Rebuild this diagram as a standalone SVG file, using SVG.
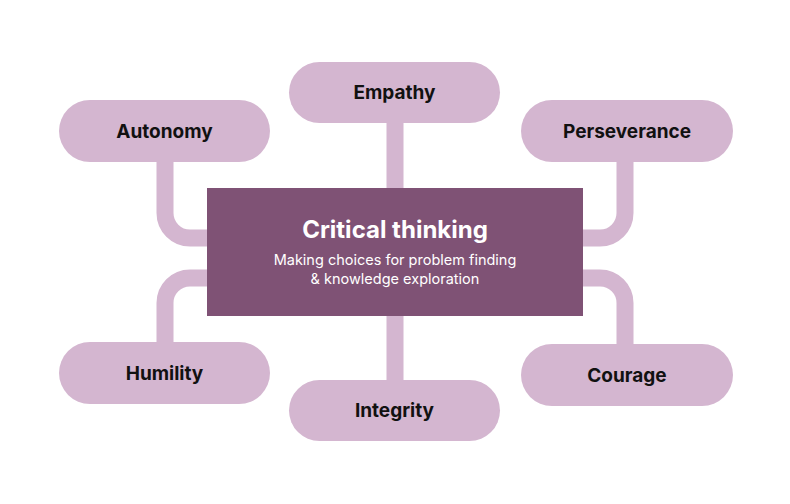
<svg xmlns="http://www.w3.org/2000/svg" width="790" height="504" viewBox="0 0 790 504">
<style>
.c{fill:none;stroke:#d4b6d0;stroke-width:17}
.p{fill:#d4b6d0}
.t{font-family:Inter,"Liberation Sans",sans-serif;font-weight:700;font-size:19px;fill:#111;text-anchor:middle}
</style>
<rect width="790" height="504" fill="#fff"/>
<g id="connectors">
<path class="c" d="M395 120V190"/>
<path class="c" d="M395 312V383"/>
<path class="c" d="M165 158V213A25 25 0 0 0 190 238H210"/>
<path class="c" d="M625 158V213A25 25 0 0 1 600 238H580"/>
<path class="c" d="M165 346V303A25 25 0 0 1 190 278H210"/>
<path class="c" d="M625 348V303A25 25 0 0 0 600 278H580"/>
</g>
<g id="empathy"><rect class="p" x="289" y="62" width="211" height="61" rx="30.5"/><text class="t" x="394.5" y="99">Empathy</text></g>
<g id="autonomy"><rect class="p" x="59" y="100" width="211" height="62" rx="31"/><text class="t" x="164.5" y="138">Autonomy</text></g>
<g id="perseverance"><rect class="p" x="521" y="100" width="212" height="62" rx="31"/><text class="t" x="627" y="138">Perseverance</text></g>
<g id="humility"><rect class="p" x="59" y="342" width="211" height="62" rx="31"/><text class="t" x="164.5" y="380">Humility</text></g>
<g id="integrity"><rect class="p" x="289" y="380" width="211" height="61" rx="30.5"/><text class="t" x="394.5" y="417">Integrity</text></g>
<g id="courage"><rect class="p" x="521" y="344" width="212" height="62" rx="31"/><text class="t" x="627" y="382">Courage</text></g>
<g id="center"><rect x="207" y="188" width="376" height="128" fill="#7f5275"/>
<text x="395" y="238" font-family="Inter,'Liberation Sans',sans-serif" font-weight="700" font-size="24" fill="#fff" text-anchor="middle">Critical thinking</text>
<text font-family="Inter,'Liberation Sans',sans-serif" font-size="14.5" fill="#fff" text-anchor="middle"><tspan x="395" y="265">Making choices for problem finding</tspan><tspan x="395" y="284">&amp; knowledge exploration</tspan></text></g>
</svg>
